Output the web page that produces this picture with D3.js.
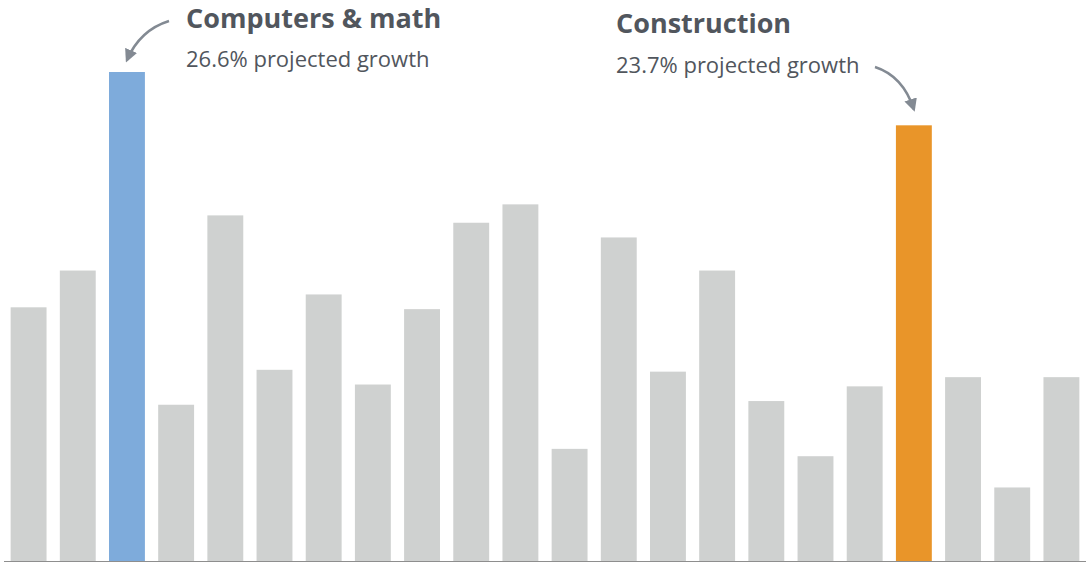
<!DOCTYPE html>
<html>
<head>
<meta charset="utf-8">
<script src="https://cdn.jsdelivr.net/npm/d3@7"></script>
<style>
  html, body { margin: 0; padding: 0; background: #fff; }
  svg { display: block; }
  .title { font-family: "Open Sans", sans-serif; font-weight: 700; fill: #51565d; }
  .sub { font-family: "Open Sans", sans-serif; font-weight: 400; fill: #51565d; }
</style>
</head>
<body>
<svg id="chart"></svg>
<script>
// occupational groups, in the order they appear
var categories = [
  "Management", "Business & financial", "Computers & math", "Architecture & engineering",
  "Life, physical & social science", "Community & social service", "Legal", "Education",
  "Arts, design & media", "Healthcare practitioners", "Healthcare support", "Protective service",
  "Food preparation", "Building & grounds", "Personal care", "Sales",
  "Office & admin support", "Farming, fishing & forestry", "Construction", "Installation & repair",
  "Production", "Transportation"
];
// projected growth, percent
var growth = [
  13.8, 15.8, 26.6, 8.5, 18.8, 10.4, 14.5, 9.6, 13.7, 18.4, 19.4,
  6.1, 17.6, 10.3, 15.8, 8.7, 5.7, 9.5, 23.7, 10.0, 4.0, 10.0
];
var highlights = ["Computers & math", "Construction"];
var highlightColors = ["#7eabdb", "#e99529"];
var subtitles = ["26.6% projected growth", "23.7% projected growth"];

var width = 1086, height = 562;

var svg = d3.select("#chart")
    .attr("width", width)
    .attr("height", height);

var x = d3.scaleBand()
    .domain(categories)
    .range([4, 1086])
    .paddingInner(0.27)
    .paddingOuter(0.135);

var y = d3.scaleLinear()
    .domain([0, 26.6])
    .range([561, 72]);

var color = d3.scaleOrdinal()
    .domain(highlights)
    .range(highlightColors)
    .unknown("#cfd1d0");

svg.append("g")
  .selectAll("rect")
  .data(categories)
  .join("rect")
    .attr("x", function(d) { return x(d); })
    .attr("width", x.bandwidth())
    .attr("y", function(d, i) { return y(growth[i]); })
    .attr("height", function(d, i) { return y(0) - y(growth[i]); })
    .attr("fill", function(d) { return color(d); });

// baseline
svg.append("line")
    .attr("x1", 4).attr("x2", width)
    .attr("y1", y(0) + 0.75).attr("y2", y(0) + 0.75)
    .attr("stroke", "#8e8e8e")
    .attr("stroke-width", 1.5);

// arrow head
svg.append("defs").append("marker")
    .attr("id", "head")
    .attr("viewBox", "0 0 10 10")
    .attr("refX", 8).attr("refY", 5)
    .attr("markerWidth", 13).attr("markerHeight", 13)
    .attr("markerUnits", "userSpaceOnUse")
    .attr("orient", "auto")
  .append("path")
    .attr("d", "M0,0 L10,5 L0,10 Z")
    .attr("fill", "#838a93");

// annotations
var i1 = categories.indexOf(highlights[0]);
var i2 = categories.indexOf(highlights[1]);
var cx1 = x(highlights[0]) + x.bandwidth() / 2;
var cx2 = x(highlights[1]) + x.bandwidth() / 2;

svg.append("text").attr("class", "title")
    .attr("x", 186).attr("y", 28)
    .style("font-size", "27px")
    .text(highlights[0]);
svg.append("text").attr("class", "sub")
    .attr("x", 186).attr("y", 67)
    .style("font-size", "22px")
    .text(subtitles[0]);

svg.append("text").attr("class", "title")
    .attr("x", 616).attr("y", 33)
    .style("font-size", "27px")
    .text(highlights[1]);
svg.append("text").attr("class", "sub")
    .attr("x", 616).attr("y", 73)
    .style("font-size", "22px")
    .text(subtitles[1]);

var arrow = function(x0, y0, qx, qy, x1, y1) {
  var p = d3.path();
  p.moveTo(x0, y0);
  p.quadraticCurveTo(qx, qy, x1, y1);
  return p.toString();
};

svg.append("path")
    .attr("d", arrow(169, 21, 140, 30, cx1, y(growth[i1]) - 12))
    .attr("fill", "none")
    .attr("stroke", "#838a93")
    .attr("stroke-width", 2.5)
    .attr("marker-end", "url(#head)");

svg.append("path")
    .attr("d", arrow(875, 67, 903, 76, cx2, y(growth[i2]) - 16))
    .attr("fill", "none")
    .attr("stroke", "#838a93")
    .attr("stroke-width", 2.5)
    .attr("marker-end", "url(#head)");
</script>
</body>
</html>
